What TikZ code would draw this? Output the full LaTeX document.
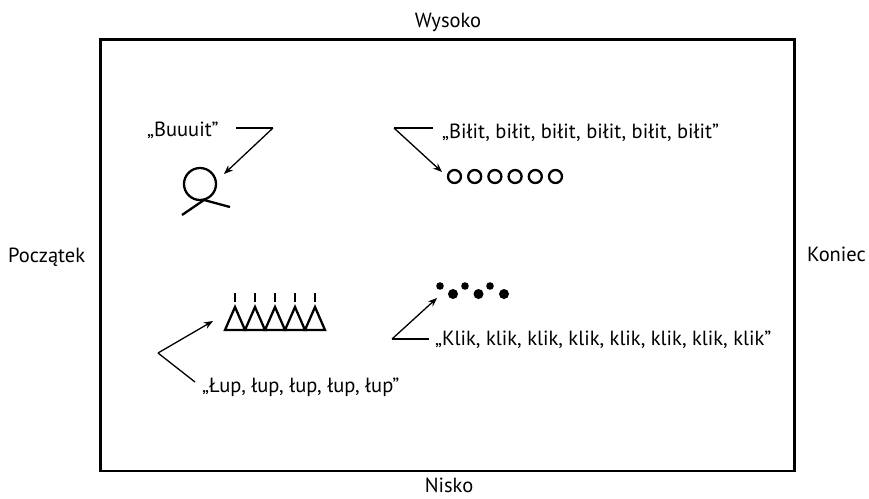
\documentclass[tikz,border=0pt]{standalone}
\usepackage{fontspec}
\setmainfont{PT Sans}
\usetikzlibrary{arrows.meta}
\begin{document}
\begin{tikzpicture}[x=1pt,y=-1pt,
  lbl/.style={inner sep=0pt,font=\fontsize{20.5}{24}\selectfont},
  conn/.style={line width=1.3pt},
  arr/.style={line width=1.3pt,-{Stealth[length=9pt,width=7pt]}},
  sym/.style={line width=2.3pt}]
\useasboundingbox (0,0) rectangle (869,498);
\draw[line width=2.5pt] (100.5,39.5) rectangle (794.5,471);
\node[lbl,anchor=base] (hi) at (448,27) {Wysoko};
\node[lbl,anchor=base] (lo) at (449,492.5) {Nisko};
\node[lbl,anchor=base west] (st) at (8,262) {Początek};
\node[lbl,anchor=base west] (en) at (807,261) {Koniec};
% Buuuit
\node[lbl,anchor=base west] (bu) at (147,136) {„Buuuit”};
\coordinate (bua) at (236,128);
\coordinate (bub) at (273,128);
\coordinate (but) at (224,174);
\draw[conn] (bua) -- (bub);
\draw[arr] (bub) -- (but);
\draw[sym] (200,184) circle[radius=16];
\draw[sym] (182,215) -- (204,200) -- (230,207);
% Bilit
\node[lbl,anchor=base west] (bi) at (442,138) {„Biłit, biłit, biłit, biłit, biłit, biłit”};
\coordinate (bia) at (433,128);
\coordinate (bib) at (394,128);
\coordinate (bit) at (442,172);
\draw[conn] (bia) -- (bib);
\draw[arr] (bib) -- (bit);
\foreach \i in {0,...,5} \draw[sym] (454.5+20.2*\i,176.5) circle[radius=6.5];
% Lup
\node[lbl,anchor=base west] (lu) at (202,392) {„Łup, łup, łup, łup, łup”};
\coordinate (lua) at (195,382);
\coordinate (lub) at (158,353);
\coordinate (lut) at (213,321);
\draw[conn] (lua) -- (lub);
\draw[arr] (lub) -- (lut);
\foreach \i in {0,...,4} {
  \draw[sym,line join=miter] (235+20*\i,307) -- (245+20*\i,330) -- (225+20*\i,330) -- cycle;
  \draw[sym] (235+20*\i,293) -- (235+20*\i,302);
}
% Klik
\node[lbl,anchor=base west] (kl) at (435,345) {„Klik, klik, klik, klik, klik, klik, klik, klik”};
\coordinate (kla) at (429,339);
\coordinate (klb) at (392,339);
\coordinate (klt) at (437,298);
\draw[conn] (kla) -- (klb);
\draw[arr] (klb) -- (klt);
\foreach \i in {0,1,2} {
  \fill (440+25*\i,286) circle[radius=3.8];
  \fill (453+25.5*\i,294) circle[radius=5];
}
\end{tikzpicture}
\end{document}
